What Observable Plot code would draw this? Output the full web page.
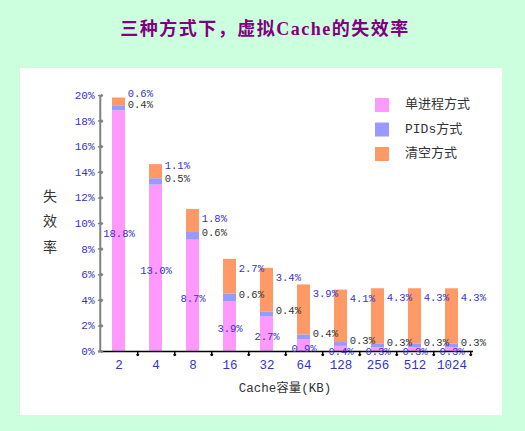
<!DOCTYPE html>
<html><head><meta charset="utf-8">
<script src="https://cdn.jsdelivr.net/npm/d3@7"></script>
<script src="https://cdn.jsdelivr.net/npm/@observablehq/plot@0.6"></script>
<style>
html,body{margin:0;padding:0;background:#ccffdd;}
#wrap{position:relative;width:525px;height:431px;overflow:hidden;}
#panel{position:absolute;left:20px;top:68px;width:482px;height:347px;background:#fff;}
#chart{position:absolute;left:0;top:0;}
</style></head><body>
<div id="wrap"><div id="panel"></div><div id="chart"></div></div>
<script>
const sizes = ["2","4","8","16","32","64","128","256","512","1024"];
const seriesNames = ["单进程方式","PIDs方式","清空方式"];
const seriesColors = ["#ff99ff","#9999ff","#ff9966"];
const singleProc = [18.8, 13.0, 8.7, 3.9, 2.7, 0.9, 0.4, 0.3, 0.3, 0.3];
const pids =       [0.4, 0.5, 0.6, 0.6, 0.4, 0.4, 0.3, 0.3, 0.3, 0.3];
const flush =      [0.6, 1.1, 1.8, 2.7, 3.4, 3.9, 4.1, 4.3, 4.3, 4.3];
const yTicks = [0,2,4,6,8,10,12,14,16,18,20];
const titleText = "三种方式下，虚拟Cache的失效率";
const yLabelText = "失效率";
const xLabelText = "Cache容量(KB)";

const seriesValues = [singleProc, pids, flush];
const data = sizes.flatMap((s, i) => seriesNames.map((n, k) => ({size: s, series: n, value: seriesValues[k][i]})));
const fmt = v => v.toFixed(1) + "%";

const mono = "'Liberation Mono','Noto Sans CJK SC',monospace";
const blue = "#3333cc";
const dark = "#333333";
const W = 525, H = 431, mL = 98, mR = 52, mT = 95, mB = 80;
const step = (W - mL - mR) / sizes.length;
const half = step / 2;
const pIn = 0.64;
const bw = step * (1 - pIn);

const stackOpts = {x: "size", y: "value", z: "series"};
const labelFor = (k, pick) => d => d.series === seriesNames[k] && pick(d) ? fmt(d.value) : null;
const rightLabel = {fontSize: 10.5, fontFamily: mono, textAnchor: "start", dx: bw / 2 + 2};

const chart = Plot.plot({
  width: W, height: H,
  marginLeft: mL, marginRight: mR, marginTop: mT, marginBottom: mB,
  style: {background: "transparent", fontFamily: mono},
  x: {domain: sizes, paddingInner: pIn, paddingOuter: pIn / 2, label: null},
  y: {domain: [0, 20], label: null},
  color: {domain: seriesNames, range: seriesColors},
  marks: [
    Plot.barY(data, {x: "size", y: "value", fill: "series"}),
    Plot.ruleY([0], {stroke: "#000", strokeWidth: 1.5}),
    Plot.ruleX([sizes[0]], {dx: -half, stroke: "#808080", strokeWidth: 2}),
    Plot.vector(yTicks, {y: d => d, frameAnchor: "left", length: 4, rotate: 90, anchor: "start", stroke: "#808080", strokeWidth: 1.5}),
    Plot.vector(sizes, {x: d => d, y: 0, dx: half, length: 4, rotate: 180, anchor: "start", stroke: "#000"}),
    Plot.axisY({ticks: yTicks, tickFormat: d => d + "%", tickSize: 0, tickPadding: 4, color: blue, fontSize: 11, fontFamily: mono}),
    Plot.axisX({tickSize: 0, tickPadding: 9, color: blue, fontSize: 12.5, fontFamily: mono}),
    Plot.text(data, Plot.stackY({...stackOpts,
      text: labelFor(0, () => true), fill: blue, fontSize: 10.5, fontFamily: mono, dy: 2.5})),
    Plot.text(data, Plot.stackY({...stackOpts,
      text: labelFor(1, () => true), fill: dark, ...rightLabel, dy: -3.5})),
    Plot.text(data, Plot.stackY2({...stackOpts,
      text: labelFor(2, d => d.size === sizes[0]), fill: blue, ...rightLabel, dy: -4})),
    Plot.text(data, Plot.stackY2({...stackOpts,
      text: labelFor(2, d => d.size === sizes[1]), fill: blue, ...rightLabel, dy: 1})),
    Plot.text(data, Plot.stackY2({...stackOpts,
      text: labelFor(2, d => d.size !== sizes[0] && d.size !== sizes[1]), fill: blue, ...rightLabel, dy: 9}))
  ]
});
document.getElementById("chart").appendChild(chart);

const svg = d3.select(chart);
const color = chart.scale("color");
svg.append("text").text(titleText)
  .attr("x", 265).attr("y", 31)
  .attr("text-anchor", "middle").attr("dominant-baseline", "middle")
  .attr("fill", "#800080").attr("font-weight", "bold").attr("font-size", 18)
  .attr("letter-spacing", 1.5)
  .attr("font-family", "'Liberation Serif','Noto Sans CJK SC',serif");

const yl = svg.append("g").attr("font-family", "'Noto Sans CJK SC',sans-serif")
  .attr("font-size", 14).attr("fill", dark).attr("text-anchor", "middle");
Array.from(yLabelText).forEach((ch, i) => {
  yl.append("text").text(ch).attr("x", 50).attr("y", 197 + i * 25.5).attr("dominant-baseline", "middle");
});

svg.append("text").text(xLabelText)
  .attr("x", 285).attr("y", 389)
  .attr("text-anchor", "middle").attr("dominant-baseline", "middle")
  .attr("fill", dark).attr("font-size", 12.5).attr("font-family", mono);

const lg = svg.append("g").attr("text-anchor", "start");
seriesNames.forEach((n, i) => {
  const cy = 105 + i * 24.5;
  lg.append("rect").attr("x", 375).attr("y", cy - 7).attr("width", 14).attr("height", 14).attr("fill", color.apply(n));
  lg.append("text").text(n).attr("x", 405).attr("y", cy)
    .attr("text-anchor", "start").attr("dominant-baseline", "middle").attr("fill", dark)
    .attr("font-size", 13).attr("font-family", mono);
});
</script>
</body></html>
